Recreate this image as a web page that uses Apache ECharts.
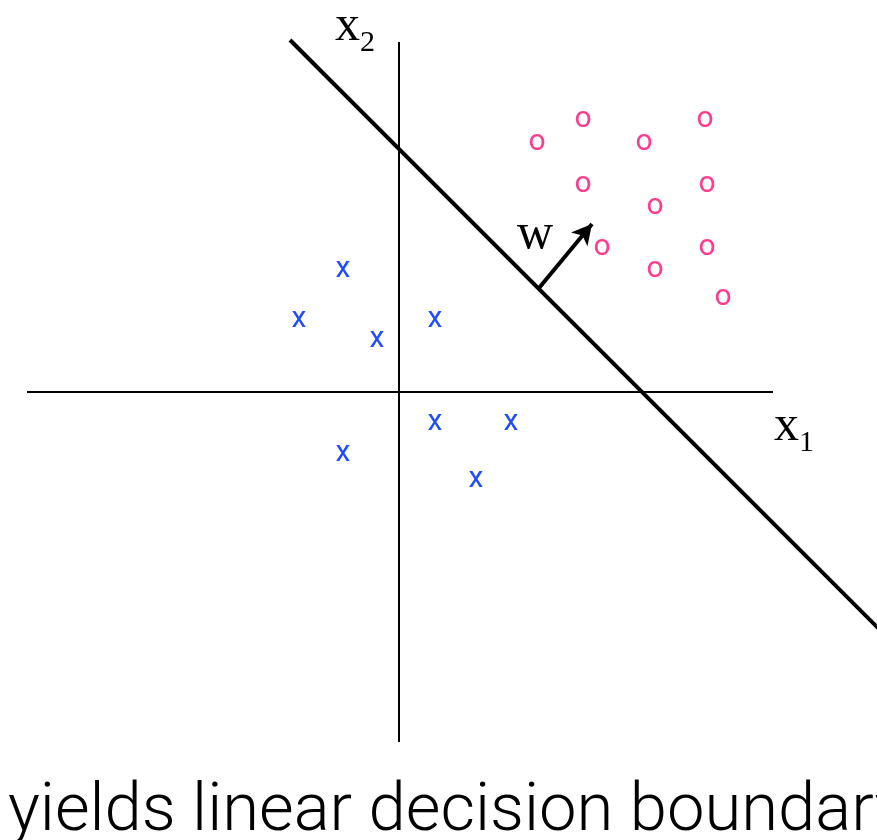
<!DOCTYPE html>
<html>
<head>
<meta charset="utf-8">
<script src="https://cdn.jsdelivr.net/npm/echarts@6/dist/echarts.min.js"></script>
<style>
  html, body { margin: 0; padding: 0; background: #fff; }
  #main { width: 877px; height: 840px; }
</style>
</head>
<body>
<div id="main"></div>
<script>
// class "x" points (x1, x2)
var blueX = [-56, -100, -22, 36, 36, 112, -56, 77];
var blueY = [121, 71, 51, 71, -32, -32, -63, -89];
// class "o" points
var pinkX = [138, 184, 245, 306, 184, 308, 256, 203, 308, 256, 324];
var pinkY = [248, 271, 248, 271, 206, 206, 184, 143, 143, 121, 93];
// axes and decision boundary end points
var axis1X = [-372, 374], axis1Y = [0, 0];
var axis2X = [0, 0], axis2Y = [350, -350];
var boundaryX = [-109, 520], boundaryY = [352, -277];
// normal vector w
var wFrom = [140, 104], wTo = [193, 168];

function pairs(xs, ys) {
  return xs.map(function (v, i) { return [v, ys[i]]; });
}

var myChart = echarts.init(document.getElementById('main'));

// invisible symbol, label keeps full opacity
var hidden = { color: 'rgba(0,0,0,0)', opacity: 1 };
var serif = '"Liberation Serif", "Times New Roman", serif';

var markerLabel = function (txt, color) {
  return {
    show: true,
    position: 'inside',
    formatter: txt,
    color: color,
    fontFamily: 'Roboto',
    fontWeight: 400,
    fontSize: 30,
    offset: [0, -2]
  };
};

var option = {
  animation: false,
  backgroundColor: '#fff',
  title: {
    text: 'yields linear decision boundary',
    left: 3,
    top: 775,
    textStyle: { fontFamily: 'Roboto', fontWeight: 300, fontSize: 67, color: '#000' }
  },
  grid: { left: 0, right: 0, top: 0, bottom: 0 },
  xAxis: { type: 'value', min: -399, max: 478, show: false },
  yAxis: { type: 'value', min: -448, max: 392, show: false },
  series: [
    {
      type: 'line', data: pairs(axis1X, axis1Y), symbol: 'none', silent: true,
      lineStyle: { color: '#000', width: 2 }
    },
    {
      type: 'line', data: pairs(axis2X, axis2Y), symbol: 'none', silent: true,
      lineStyle: { color: '#000', width: 2 }
    },
    {
      type: 'line', data: pairs(boundaryX, boundaryY), symbol: 'none', silent: true,
      lineStyle: { color: '#000', width: 4 },
      markLine: {
        silent: true,
        symbol: ['none', 'arrow'],
        symbolSize: [16, 20],
        label: { show: false },
        lineStyle: { color: '#000', width: 4, type: 'solid' },
        data: [[{ coord: wFrom }, { coord: wTo }]]
      }
    },
    {
      type: 'scatter', data: pairs(blueX, blueY), symbolSize: 1, silent: true,
      itemStyle: hidden, label: markerLabel('x', '#1f4cff')
    },
    {
      type: 'scatter', data: pairs(pinkX, pinkY), symbolSize: 1, silent: true,
      itemStyle: hidden, label: markerLabel('o', '#ff3d8e')
    },
    {
      type: 'scatter', symbolSize: 1, silent: true, itemStyle: hidden,
      data: [
        { value: [-44, 362], label: { formatter: '{a|x}{b|2}' } },
        { value: [395, -38], label: { formatter: '{a|x}{b|1}' } },
        { value: [136, 154], label: { formatter: '{a|w}' } }
      ],
      label: {
        show: true,
        position: 'inside',
        color: '#000',
        rich: {
          a: { fontFamily: serif, fontSize: 50, lineHeight: 56, verticalAlign: 'top', color: '#000' },
          b: { fontFamily: serif, fontSize: 30, lineHeight: 30, verticalAlign: 'bottom', color: '#000' }
        }
      }
    }
  ]
};

myChart.setOption(option);
</script>
</body>
</html>
